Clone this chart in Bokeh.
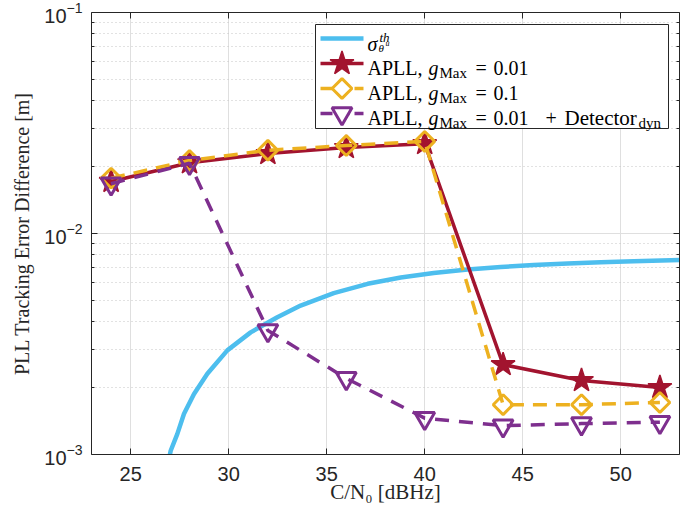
from bokeh.plotting import figure
from bokeh.models import (Range1d, LinearScale, FixedTicker, LinearAxis, LogAxis,
                          CustomJSTickFormatter)
from bokeh.core.properties import value
from bokeh.embed import file_html
from bokeh.resources import INLINE

# ---------------- data ----------------
snr = [24, 28, 32, 36, 40, 44, 48, 52]
apll_gmax_001 = [0.0172, 0.0209, 0.0230, 0.0245, 0.0255, 0.00255, 0.00216, 0.00201]
apll_gmax_01 = [0.0178, 0.0214, 0.0238, 0.0250, 0.0261, 0.00168, 0.00168, 0.00172]
apll_gmax_001_det = [0.0168, 0.0208, 0.00364, 0.00221, 0.00146, 0.00135, 0.00138, 0.00140]

theory_snr = [26.95, 27.04, 27.38, 27.72, 28.23, 28.91, 29.93, 31.12, 32.48, 33.67,
              35.36, 37.09, 38.78, 40.46, 42.19, 43.88, 45.56, 47.30, 48.98, 50.66,
              53.06]
theory_sigma = [0.00095, 0.00104, 0.00124, 0.00153, 0.00188, 0.00232, 0.00296,
                0.00357, 0.00418, 0.00472, 0.00537, 0.00592, 0.00632, 0.00663,
                0.00687, 0.00705, 0.00720, 0.00732, 0.00741, 0.00749, 0.00759]

x_ticks = [25, 30, 35, 40, 45, 50]
y_ticks = [1e-3, 1e-2, 1e-1]
y_minor = [k * 10.0 ** e for e in (-3, -2) for k in range(2, 10)]

# ---------------- styles ----------------
C_BLUE = "#4DBEEE"
C_RED = "#A2142F"
C_YEL = "#EDB120"
C_PUR = "#7E2F8E"
AX = "#262626"
SERIF = "Liberation Serif"
SANS = "Liberation Sans"

p = figure(width=683, height=506,
           x_range=Range1d(23, 53), y_range=Range1d(1e-3, 1e-1),
           y_axis_type="log", output_backend="svg", toolbar_location=None,
           min_border_left=91, min_border_right=4, min_border_top=12,
           min_border_bottom=52)
p.outline_line_color = None
p.background_fill_color = "white"

xt = FixedTicker(ticks=x_ticks, minor_ticks=[])
yt = FixedTicker(ticks=y_ticks, minor_ticks=y_minor)
p.xaxis.ticker = xt
p.yaxis.ticker = yt
p.xgrid.ticker = xt
p.ygrid.ticker = yt

for g in (p.xgrid, p.ygrid):
    g.grid_line_color = "#dfdfdf"
    g.grid_line_width = 1
p.ygrid.minor_grid_line_color = "#c4c4c4"
p.ygrid.minor_grid_line_dash = "1 3"

blank = CustomJSTickFormatter(code="return ''")

def style_axis(ax, labels=True):
    ax.axis_line_color = AX
    ax.major_tick_line_color = AX
    ax.minor_tick_line_color = AX
    ax.major_tick_in = 6
    ax.major_tick_out = 0
    ax.minor_tick_in = 3
    ax.minor_tick_out = 0
    if labels:
        ax.major_label_text_font = SANS
        ax.major_label_text_font_size = "20px"
        ax.major_label_text_color = AX
        ax.axis_label_text_font = SERIF
        ax.axis_label_text_font_size = "21px"
        ax.axis_label_text_font_style = "normal"
        ax.axis_label_text_color = AX
    else:
        ax.formatter = blank
        ax.major_label_text_font_size = "1px"
        ax.major_label_standoff = 0

style_axis(p.xaxis[0])
style_axis(p.yaxis[0])
p.xaxis.axis_label = "C/N\u2080 [dBHz]"
p.yaxis.axis_label = "PLL Tracking Error Difference [m]"
p.xaxis.major_label_standoff = 12
p.xaxis.axis_label_standoff = -4
p.yaxis.major_label_standoff = 9
p.yaxis.axis_label_standoff = 8
p.yaxis.axis_label_text_font_size = "20px"

top_ax = LinearAxis(ticker=xt)
style_axis(top_ax, labels=False)
p.add_layout(top_ax, "above")
right_ax = LogAxis(ticker=yt)
style_axis(right_ax, labels=False)
p.add_layout(right_ax, "right")

# ---------------- data series ----------------
p.line(theory_snr, theory_sigma, line_color=C_BLUE, line_width=4.5, line_join="round")

p.line(snr, apll_gmax_001, line_color=C_RED, line_width=3.5)
p.scatter(snr, apll_gmax_001, marker="star", size=25, fill_color=C_RED,
          line_color=C_RED, line_width=1.5)

p.line(snr, apll_gmax_01, line_color=C_YEL, line_width=3.5, line_dash="14 9")
p.scatter(snr, apll_gmax_01, marker="square", angle=0.785398, size=14,
          fill_color=None, line_color=C_YEL, line_width=3)

p.line(snr, apll_gmax_001_det, line_color=C_PUR, line_width=3.5, line_dash="14 10")
p.scatter(snr, apll_gmax_001_det, marker="inverted_triangle", size=20,
          fill_color=None, line_color=C_PUR, line_width=3)

# ---------------- legend (drawn in a pixel range over the frame) ----------------
p.extra_x_ranges = {"px": Range1d(0, 588)}
p.extra_y_ranges = {"px": Range1d(442, 0)}
p.extra_x_scales = {"px": LinearScale()}
p.extra_y_scales = {"px": LinearScale()}
kw = dict(x_range_name="px", y_range_name="px")

p.quad(left=[224], right=[577], top=[12], bottom=[116], fill_color="white",
       line_color=AX, line_width=1, **kw)

row_y = [26, 51, 76, 101]
sx0, sx1, sxm = 229, 272, 250.5
p.line([sx0, sx1], [row_y[0]] * 2, line_color=C_BLUE, line_width=4.5, **kw)
p.line([sx0, sx1], [row_y[1]] * 2, line_color=C_RED, line_width=3.5, **kw)
p.scatter([sxm], [row_y[1]], marker="star", size=25, fill_color=C_RED,
          line_color=C_RED, line_width=1.5, **kw)
p.line([sx0, sx1], [row_y[2]] * 2, line_color=C_YEL, line_width=3.5,
       line_dash="12 5", **kw)
p.scatter([sxm], [row_y[2]], marker="square", angle=0.785398, size=14,
          fill_color="white", line_color=C_YEL, line_width=3, **kw)
p.line([sx0, sx1], [row_y[3]] * 2, line_color=C_PUR, line_width=3.5,
       line_dash="12 5", **kw)
p.scatter([sxm], [row_y[3]], marker="inverted_triangle", size=20,
          fill_color="white", line_color=C_PUR, line_width=3, **kw)

# (text, x, baseline y, size, style)
legend_pieces = [
    ("\u03c3", 276, 31, "20px", "italic"),
    ("th", 288, 25, "13px", "italic"),
    ("\u03b8", 287, 35, "11px", "italic"),
    ("u", 294, 31, "8px", "italic"),
]
for ry, val in ((55, "0.01"), (80, "0.1"), (105, "0.01")):
    legend_pieces += [
        ("APLL,", 276, ry, "20px", "normal"),
        ("g", 337, ry, "20px", "italic"),
        ("Max", 348, ry + 5, "15px", "normal"),
        ("=", 384, ry, "20px", "normal"),
        (val, 402, ry, "20px", "normal"),
    ]
legend_pieces += [
    ("+", 454, 105, "20px", "normal"),
    ("Detector", 473, 105, "21px", "normal"),
    ("dyn", 547, 110, "15px", "normal"),
]
for txt, tx, ty, fs, st in legend_pieces:
    p.text(x=[tx], y=[ty], text=[txt], text_font=value(SERIF), text_font_size=fs,
           text_font_style=st, text_baseline="alphabetic", text_align="left",
           text_color="black", **kw)

open("out.html", "w").write(file_html(p, INLINE))
